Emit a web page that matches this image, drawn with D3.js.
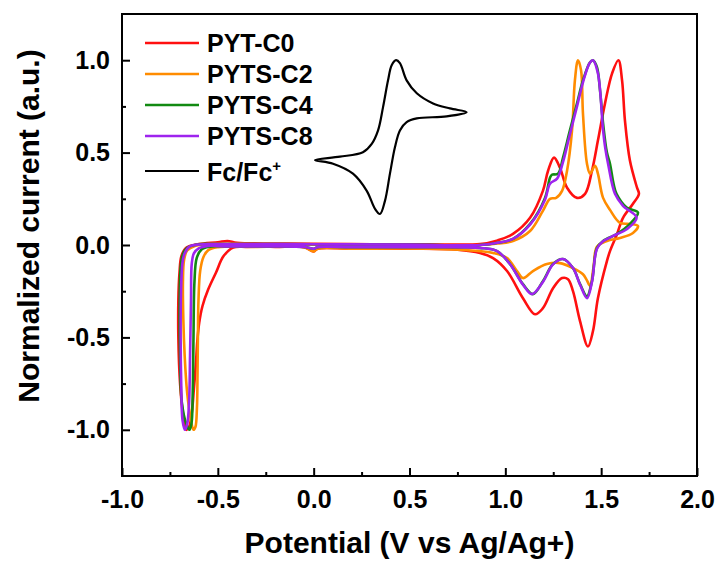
<!DOCTYPE html>
<html><head><meta charset="utf-8">
<script src="https://cdn.jsdelivr.net/npm/d3@7"></script>
<style>
body{margin:0;background:#fff}
svg{display:block}
text{font-family:"Liberation Sans",Arial,sans-serif;font-weight:bold;fill:#000}
</style>
</head><body><svg id="c" width="718" height="563"></svg>
<script>
const xTicks=[-1.0,-0.5,0.0,0.5,1.0,1.5,2.0];
const xMinor=[-0.75,-0.25,0.25,0.75,1.25,1.75];
const yTicks=[-1.0,-0.5,0.0,0.5,1.0];
const yMinor=[-0.75,-0.25,0.25,0.75];
const seriesNames=["PYT-C0","PYTS-C2","PYTS-C4","PYTS-C8"];
const refName="Fc/Fc";
const seriesColors=["#ff1010","#ff8c00","#128a12","#9e24ee"];

const pytC0=[[0.00,-0.035],[-0.05,-0.012],[-0.2,-0.01],[-0.35,-0.01],[-0.42,-0.014],[-0.47,-0.06],[-0.51,-0.15],[-0.55,-0.24],[-0.58,-0.33],[-0.597,-0.42],[-0.607,-0.52],[-0.615,-0.65],[-0.625,-0.78],[-0.635,-0.9],[-0.65,-0.985],[-0.665,-1.0],[-0.68,-0.93],[-0.697,-0.75],[-0.706,-0.5],[-0.706,-0.3],[-0.7,-0.15],[-0.69,-0.06],[-0.665,-0.015],[-0.6,0.005],[-0.5,0.015],[-0.45,0.022],[-0.4,0.012],[-0.2,0.008],[0.0,0.006],[0.3,0.004],[0.6,0.004],[0.868,0.005],[0.96,0.025],[1.04,0.06],[1.129,0.147],[1.196,0.293],[1.223,0.402],[1.254,0.473],[1.285,0.418],[1.322,0.31],[1.374,0.255],[1.416,0.277],[1.452,0.402],[1.483,0.565],[1.52,0.766],[1.557,0.929],[1.59,1.0],[1.609,0.891],[1.624,0.674],[1.65,0.457],[1.687,0.31],[1.697,0.277],[1.666,0.223],[1.614,0.147],[1.583,0.06],[1.546,-0.033],[1.53,-0.087],[1.483,-0.288],[1.457,-0.467],[1.431,-0.549],[1.39,-0.413],[1.353,-0.25],[1.327,-0.185],[1.296,-0.179],[1.249,-0.234],[1.196,-0.342],[1.155,-0.375],[1.092,-0.288],[1.009,-0.141],[0.936,-0.071],[0.868,-0.043],[0.75,-0.025],[0.5,-0.02],[0.2,-0.02],[0.02,-0.02]];

const pytsC2=[[0.0,-0.035],[-0.05,-0.012],[-0.3,-0.01],[-0.45,-0.009],[-0.5,-0.012],[-0.55,-0.028],[-0.575,-0.065],[-0.592,-0.14],[-0.601,-0.3],[-0.604,-0.5],[-0.606,-0.7],[-0.609,-0.88],[-0.617,-0.985],[-0.627,-1.0],[-0.64,-0.95],[-0.66,-0.8],[-0.673,-0.6],[-0.68,-0.4],[-0.682,-0.2],[-0.676,-0.08],[-0.66,-0.03],[-0.62,-0.005],[-0.55,0.005],[-0.4,0.006],[0.0,0.003],[0.5,0.0],[0.868,0.0],[0.96,0.008],[1.04,0.022],[1.129,0.076],[1.196,0.185],[1.233,0.25],[1.265,0.255],[1.296,0.293],[1.322,0.402],[1.348,0.62],[1.363,0.891],[1.379,1.0],[1.395,0.946],[1.405,0.712],[1.426,0.44],[1.442,0.386],[1.468,0.429],[1.483,0.386],[1.51,0.255],[1.546,0.19],[1.598,0.12],[1.65,0.114],[1.692,0.103],[1.666,0.065],[1.598,0.038],[1.53,0.022],[1.478,-0.01],[1.46,-0.12],[1.442,-0.22],[1.425,-0.19],[1.405,-0.158],[1.353,-0.125],[1.285,-0.098],[1.217,-0.103],[1.144,-0.141],[1.092,-0.179],[1.061,-0.141],[1.009,-0.071],[0.936,-0.043],[0.868,-0.033],[0.6,-0.02],[0.2,-0.02],[0.02,-0.02]];

const pytsC4=[[0.0,-0.02],[-0.05,-0.01],[-0.3,-0.008],[-0.45,-0.008],[-0.515,-0.006],[-0.56,-0.012],[-0.584,-0.023],[-0.61,-0.07],[-0.622,-0.2],[-0.627,-0.5],[-0.631,-0.8],[-0.638,-0.97],[-0.648,-1.0],[-0.664,-0.97],[-0.688,-0.85],[-0.697,-0.6],[-0.699,-0.3],[-0.694,-0.12],[-0.682,-0.05],[-0.66,-0.015],[-0.6,0.004],[-0.5,0.005],[0.0,0.004],[0.5,0.002],[0.868,0.0],[0.96,0.012],[1.04,0.033],[1.129,0.114],[1.207,0.255],[1.233,0.364],[1.243,0.38],[1.275,0.386],[1.301,0.473],[1.337,0.62],[1.374,0.766],[1.405,0.891],[1.442,0.989],[1.457,1.0],[1.478,0.962],[1.494,0.837],[1.51,0.658],[1.53,0.5],[1.546,0.44],[1.565,0.33],[1.58,0.277],[1.633,0.203],[1.692,0.176],[1.65,0.114],[1.583,0.06],[1.51,0.022],[1.478,-0.016],[1.452,-0.196],[1.426,-0.277],[1.39,-0.212],[1.353,-0.125],[1.301,-0.076],[1.249,-0.103],[1.196,-0.196],[1.144,-0.266],[1.092,-0.212],[1.024,-0.103],[0.957,-0.033],[0.868,-0.016],[0.6,-0.012],[0.2,-0.012],[0.02,-0.012]];

const pytsC8=[[0.0,-0.02],[-0.05,-0.01],[-0.3,-0.008],[-0.45,-0.008],[-0.55,-0.005],[-0.6,-0.018],[-0.625,-0.045],[-0.636,-0.1],[-0.64,-0.3],[-0.645,-0.6],[-0.65,-0.85],[-0.66,-0.97],[-0.672,-1.0],[-0.684,-0.95],[-0.691,-0.75],[-0.694,-0.5],[-0.692,-0.25],[-0.685,-0.1],[-0.675,-0.05],[-0.65,-0.01],[-0.6,0.003],[-0.5,0.005],[0.0,0.004],[0.5,0.002],[0.868,0.0],[0.96,0.012],[1.04,0.033],[1.129,0.11],[1.207,0.245],[1.233,0.332],[1.27,0.359],[1.301,0.45],[1.337,0.6],[1.374,0.75],[1.405,0.88],[1.44,0.985],[1.457,1.0],[1.483,0.929],[1.51,0.62],[1.522,0.52],[1.536,0.44],[1.572,0.277],[1.614,0.212],[1.685,0.148],[1.635,0.087],[1.562,0.049],[1.51,0.02],[1.478,-0.02],[1.452,-0.2],[1.426,-0.288],[1.39,-0.215],[1.353,-0.125],[1.301,-0.076],[1.249,-0.105],[1.196,-0.2],[1.139,-0.266],[1.092,-0.215],[1.024,-0.103],[0.957,-0.033],[0.868,-0.016],[0.6,-0.012],[0.2,-0.012],[0.02,-0.012]];

const fcRef=[[0.007,0.46],[0.137,0.478],[0.257,0.502],[0.303,0.547],[0.336,0.62],[0.362,0.746],[0.388,0.891],[0.407,0.973],[0.43,1.0],[0.45,0.984],[0.485,0.891],[0.538,0.821],[0.623,0.766],[0.711,0.739],[0.798,0.719],[0.694,0.696],[0.538,0.685],[0.485,0.665],[0.45,0.62],[0.424,0.529],[0.398,0.386],[0.372,0.239],[0.346,0.168],[0.32,0.196],[0.277,0.293],[0.205,0.386],[0.101,0.44]];

const series=[pytC0,pytsC2,pytsC4,pytsC8];

const svg=d3.select("#c");
const x=d3.scaleLinear().domain([-1,2]).range([122,697]);
const y=d3.scaleLinear().domain([-1.25,1.25]).range([476,14]);
const fmt=d=>d.toFixed(1);

// axes
const gx=svg.append("g").attr("transform","translate(0,476)")
  .call(d3.axisBottom(x).tickValues(xTicks).tickSize(-8).tickSizeOuter(0).tickPadding(14).tickFormat(fmt));
const gxm=svg.append("g").attr("transform","translate(0,476)")
  .call(d3.axisBottom(x).tickValues(xMinor).tickSize(-4).tickSizeOuter(0).tickFormat(""));
const gy=svg.append("g").attr("transform","translate(122,0)")
  .call(d3.axisLeft(y).tickValues(yTicks).tickSize(-8).tickSizeOuter(0).tickPadding(12).tickFormat(fmt));
const gym=svg.append("g").attr("transform","translate(122,0)")
  .call(d3.axisLeft(y).tickValues(yMinor).tickSize(-4).tickSizeOuter(0).tickFormat(""));
[gx,gxm,gy,gym].forEach(g=>{
  g.select(".domain").remove();
  g.selectAll("line").attr("stroke","#000").attr("stroke-width",2);
  g.selectAll("text").attr("font-size",25).attr("font-family","'Liberation Sans',Arial,sans-serif").attr("font-weight","bold").attr("fill","#000");
});

// lines
const line=d3.line().x(d=>x(d[0])).y(d=>y(d[1])).curve(d3.curveCatmullRomClosed.alpha(0.5));
const plot=svg.append("g");
series.forEach((s,i)=>{
  plot.append("path").attr("d",line(s)).attr("fill","none").attr("stroke",seriesColors[i]).attr("stroke-width",2.6).attr("stroke-linejoin","round");
});
plot.append("path").attr("d",line(fcRef)).attr("fill","none").attr("stroke","#000").attr("stroke-width",2.2).attr("stroke-linejoin","round");

// frame
svg.append("rect").attr("x",122).attr("y",14).attr("width",575).attr("height",462)
  .attr("fill","none").attr("stroke","#000").attr("stroke-width",2);

// legend
const leg=svg.append("g");
const legY=[43,74,105,136];
seriesNames.forEach((n,i)=>{
  leg.append("line").attr("x1",145).attr("x2",199).attr("y1",legY[i]).attr("y2",legY[i]).attr("stroke",seriesColors[i]).attr("stroke-width",2.6);
  leg.append("text").attr("x",207).attr("y",legY[i]+9).attr("font-size",25).text(n);
});
leg.append("line").attr("x1",145).attr("x2",199).attr("y1",171).attr("y2",171).attr("stroke","#000").attr("stroke-width",1.8);
const ft=leg.append("text").attr("x",207).attr("y",181).attr("font-size",25).text(refName);
ft.append("tspan").attr("dy",-10).attr("font-size",15).text("+");

// titles
svg.append("text").attr("x",409.5).attr("y",553).attr("text-anchor","middle").attr("font-size",30).text("Potential (V vs Ag/Ag+)");
svg.append("text").attr("transform","translate(39,226) rotate(-90)").attr("text-anchor","middle").attr("font-size",30).text("Normalized current (a.u.)");
</script>
</body></html>
